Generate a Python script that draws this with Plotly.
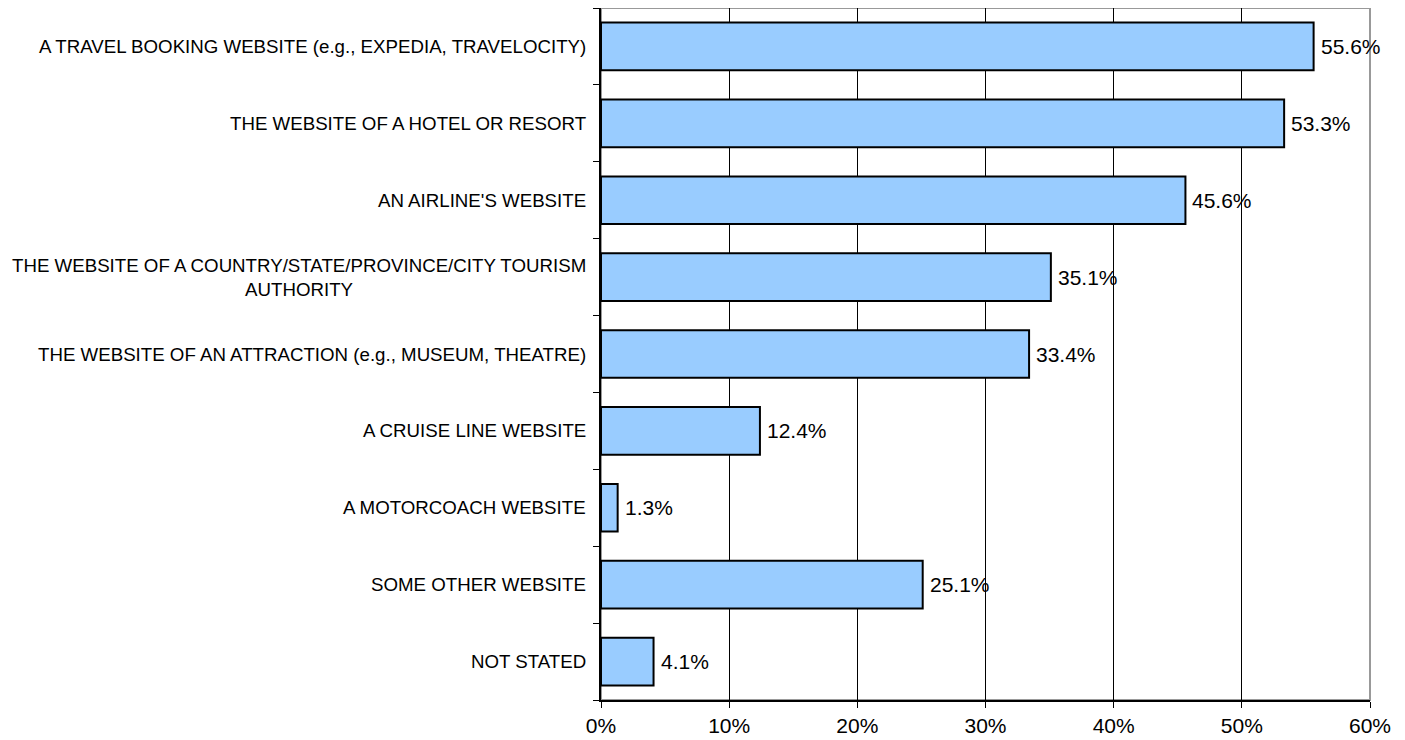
import plotly.graph_objects as go

categories = [
    "A TRAVEL BOOKING WEBSITE (e.g., EXPEDIA, TRAVELOCITY)",
    "THE WEBSITE OF A HOTEL OR RESORT",
    "AN AIRLINE'S WEBSITE",
    "THE WEBSITE OF A COUNTRY/STATE/PROVINCE/CITY TOURISM<br>AUTHORITY",
    "THE WEBSITE OF AN ATTRACTION (e.g., MUSEUM, THEATRE)",
    "A CRUISE LINE WEBSITE",
    "A MOTORCOACH WEBSITE",
    "SOME OTHER WEBSITE",
    "NOT STATED",
]
values = [0.556, 0.533, 0.456, 0.351, 0.334, 0.124, 0.013, 0.251, 0.041]
value_labels = ["55.6%", "53.3%", "45.6%", "35.1%", "33.4%", "12.4%", "1.3%", "25.1%", "4.1%"]
x_ticks = [0, 0.1, 0.2, 0.3, 0.4, 0.5, 0.6]
x_tick_labels = ["0%", "10%", "20%", "30%", "40%", "50%", "60%"]

font_family = "Liberation Sans, Arial, sans-serif"

fig = go.Figure()
fig.add_trace(go.Bar(
    x=values,
    y=list(range(len(categories))),
    orientation="h",
    marker=dict(color="#99CCFF", line=dict(color="#000000", width=2)),
    width=0.62,
    hoverinfo="skip",
))

annotations = []
for i, c in enumerate(categories):
    annotations.append(dict(
        x=0, xref="paper", y=i, yref="y",
        text=c, showarrow=False, xanchor="right", align="center",
        xshift=-13, font=dict(size=18.7, color="#000000", family=font_family),
    ))
for i, (v, t) in enumerate(zip(values, value_labels)):
    annotations.append(dict(
        x=v, xref="x", y=i, yref="y",
        text=t, showarrow=False, xanchor="left", yanchor="middle",
        xshift=5, font=dict(size=21, color="#000000", family=font_family),
    ))

fig.update_layout(
    width=1397, height=732,
    margin=dict(l=593, r=35, t=0, b=40, autoexpand=False),
    paper_bgcolor="white", plot_bgcolor="white",
    showlegend=False,
    annotations=annotations,
    font=dict(family=font_family, color="#000000"),
    shapes=[dict(type="rect", xref="paper", yref="paper", x0=0, x1=1, y0=0, y1=1,
                 line=dict(color="#999999", width=2), layer="below")],
)
fig.update_xaxes(
    range=[0, 0.6], tickvals=x_ticks, ticktext=x_tick_labels,
    showgrid=True, gridcolor="#000000", gridwidth=1,
    showline=True, linecolor="#000000", linewidth=2,
    ticks="outside", ticklen=6, tickcolor="#000000", tickwidth=1,
    tickfont=dict(size=21, color="#000000", family=font_family),
    zeroline=False, fixedrange=True,
)
fig.update_yaxes(
    range=[len(categories) - 0.5, -0.5],
    tickvals=[i - 0.5 for i in range(len(categories) + 1)],
    ticktext=[""] * (len(categories) + 1),
    showgrid=False,
    showline=True, linecolor="#000000", linewidth=2,
    ticks="outside", ticklen=6, tickcolor="#000000", tickwidth=1,
    zeroline=False, fixedrange=True,
)

fig.write_html("out.html", config={"displayModeBar": False})
